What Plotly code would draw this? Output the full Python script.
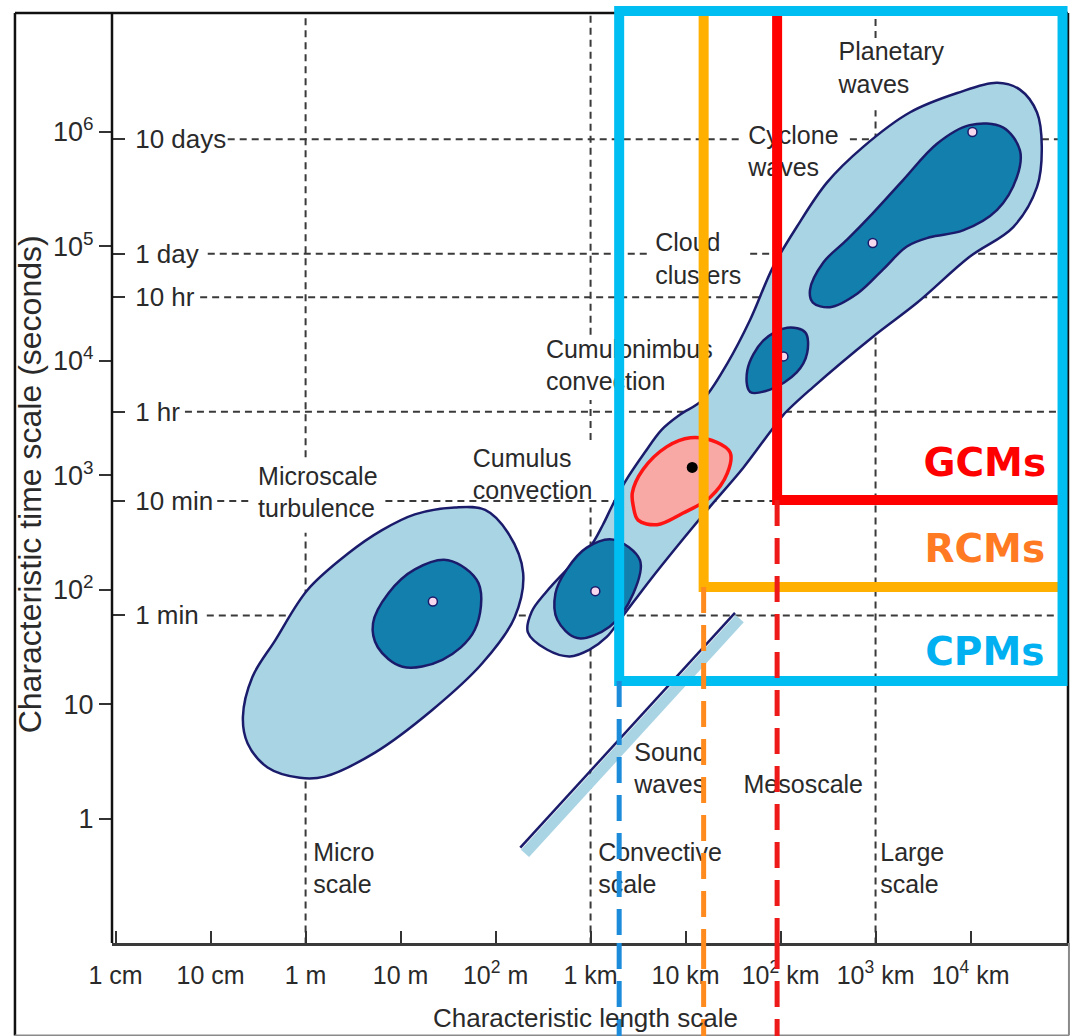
import math
import plotly.graph_objects as go

# ---------------- axes (log10 metres / log10 seconds) ----------------
X_RANGE = [-2.038, 8.026]
Y_RANGE = [-1.083, 7.109]

length_tick_vals = [0.01, 0.1, 1, 10, 100, 1e3, 1e4, 1e5, 1e6, 1e7]
length_tick_text = ["1 cm", "10 cm", "1 m", "10 m", "10<sup>2</sup> m", "1 km",
                    "10 km", "10<sup>2</sup> km", "10<sup>3</sup> km", "10<sup>4</sup> km"]
second_tick_vals = [1, 10, 100, 1e3, 1e4, 1e5, 1e6]
second_tick_text = ["1", "10", "10<sup>2</sup>", "10<sup>3</sup>", "10<sup>4</sup>",
                    "10<sup>5</sup>", "10<sup>6</sup>"]
named_time_vals = [864000, 86400, 36000, 3600, 600, 60]
named_time_text = ["10 days", "1 day", "10 hr", "1 hr", "10 min", "1 min"]

# dashed guides at named times: seconds -> spans in log10(metres)
time_guides = {
    864000: [(-0.82, 4.57), (5.73, 8.1)],
    86400: [(-1.03, 3.60), (4.68, 8.1)],
    36000: [(-1.11, 8.1)],
    3600: [(-1.27, 8.1)],
    600: [(-0.93, -0.59), (0.84, 8.1)],
    60: [(-1.04, 8.1)],
}
# dashed guides at regime boundaries: metres -> spans in log10(seconds)
length_guides = {
    1: [(3.16, 7.03), (-1.2, 2.50)],
    1e3: [(4.23, 7.03), (3.31, 3.66), (-1.2, 2.72)],
    1e6: [(6.82, 7.03), (-1.2, 6.19)],
}

# ---------------- phenomena outlines: (log10 m, log10 s) ----------------
micro_outer = [(1.57, 2.72), (1.89, 2.70), (2.13, 2.50), (2.29, 2.15), (2.20, 1.76),
               (1.86, 1.36), (1.33, 0.95), (0.73, 0.58), (0.20, 0.37), (-0.06, 0.36),
               (-0.40, 0.45), (-0.61, 0.66), (-0.66, 0.89), (-0.56, 1.24), (-0.32, 1.56),
               (0.02, 2.00), (0.45, 2.32), (0.80, 2.52), (1.15, 2.66)]
micro_inner = [(1.50, 2.26), (1.82, 2.06), (1.78, 1.65), (1.44, 1.39), (1.02, 1.33),
               (0.76, 1.50), (0.71, 1.71), (0.87, 1.97), (1.15, 2.18)]
meso_band = [(2.34, 1.63), (2.38, 1.81), (2.52, 1.97), (2.73, 2.16), (2.99, 2.37),
             (3.13, 2.57), (3.23, 2.74), (3.36, 2.94), (3.57, 3.20), (3.75, 3.40),
             (3.94, 3.53), (4.18, 3.66), (4.44, 3.98), (4.68, 4.36), (4.92, 4.82),
             (5.17, 5.17), (5.49, 5.56), (5.87, 5.87), (6.36, 6.17), (6.86, 6.34),
             (7.28, 6.43), (7.52, 6.37), (7.70, 6.17), (7.75, 5.87), (7.70, 5.52),
             (7.45, 5.17), (6.99, 4.91), (6.44, 4.51), (5.97, 4.21), (5.34, 3.77),
             (5.03, 3.53), (4.89, 3.38), (4.61, 3.07), (4.26, 2.73), (3.91, 2.38),
             (3.63, 2.09), (3.31, 1.74), (3.17, 1.59), (2.99, 1.48), (2.78, 1.42),
             (2.54, 1.48)]
cumulus_inner = [(3.24, 2.44), (3.52, 2.26), (3.45, 1.97), (3.20, 1.68), (2.86, 1.58),
                 (2.65, 1.74), (2.63, 1.97), (2.75, 2.18), (2.96, 2.37)]
cumulonimbus = [(3.45, 2.73), (3.44, 2.85), (3.55, 3.05), (3.80, 3.25), (4.05, 3.33),
                (4.33, 3.29), (4.47, 3.20), (4.44, 3.02), (4.26, 2.81), (3.97, 2.67),
                (3.70, 2.57), (3.50, 2.61)]
cloud_inner = [(4.65, 3.92), (4.82, 4.18), (5.07, 4.29), (5.26, 4.25), (5.28, 4.07),
               (5.17, 3.90), (4.89, 3.75), (4.68, 3.73)]
planetary_inner = [(5.31, 4.62), (5.45, 4.86), (5.70, 5.06), (5.97, 5.29), (6.29, 5.58),
                   (6.65, 5.90), (6.99, 6.06), (7.34, 6.04), (7.52, 5.84), (7.49, 5.61),
                   (7.28, 5.32), (6.92, 5.14), (6.57, 5.08), (6.33, 5.00), (6.08, 4.80),
                   (5.81, 4.59), (5.52, 4.47), (5.34, 4.51)]
sound_line = [(2.26, -0.25), (4.52, 1.80)]
sound_band = [(2.31, -0.30), (4.57, 1.75)]

# representative points of each phenomenon
centre_pts = [(1.34, 1.90), (3.05, 1.99), (5.03, 4.04), (5.97, 5.03), (7.02, 6.00)]
cumulonimbus_pt = (4.07, 3.07)

# text labels: (text, log10 m of left edge, log10 s of middle)
phenomena_labels = [
    ("Microscale<br>turbulence", -0.50, 2.83),
    ("Cumulus<br>convection", 1.76, 2.99),
    ("Cumulonimbus<br>convection", 2.53, 3.94),
    ("Cloud<br>clusters", 3.68, 4.87),
    ("Cyclone<br>waves", 4.66, 5.81),
    ("Planetary<br>waves", 5.61, 6.54),
    ("Sound<br>waves", 3.46, 0.42),
    ("Micro<br>scale", 0.08, -0.45),
    ("Convective<br>scale", 3.08, -0.45),
    ("Mesoscale", 4.61, 0.28),
    ("Large<br>scale", 6.05, -0.45),
]

# model classes: finest length (m) and shortest time (s) each resolves
model_names = ["GCMs", "RCMs", "CPMs"]
model_len = [9.2e4, 1.55e4, 2.0e3]
model_time = [611, 106, 16]
model_line_colors = ["#FF0000", "#FFB000", "#00BDF2"]
model_dash_colors = ["#EE1A1A", "#FF8A1E", "#1C8BD9"]
model_text_colors = ["#FF0000", "#FF7A22", "#00B0F0"]
model_label_pos = [(7.15, 3.08), (7.15, 2.33), (7.15, 1.43)]
BOX_TOP = 1.14e7    # s
BOX_RIGHT = 9.3e7   # m
AXIS_FLOOR = 0.05   # s, below the visible range

LIGHT = "#A9D4E4"
DARK = "#137FAD"
NAVY = "#1B1B6C"
GUIDE = "#3a3a3a"
TEXT = "#2a2a2a"


def closed(pairs):
    xs = [10 ** a for a, _ in pairs]
    ys = [10 ** b for _, b in pairs]
    return xs + [xs[0]], ys + [ys[0]]


fig = go.Figure()

# dashed guide lines
gx, gy = [], []
for t, spans in time_guides.items():
    for a, b in spans:
        gx += [10 ** a, 10 ** b, None]
        gy += [t, t, None]
for L, spans in length_guides.items():
    for a, b in spans:
        gx += [L, L, None]
        gy += [10 ** a, 10 ** b, None]
fig.add_trace(go.Scatter(x=gx, y=gy, mode="lines", hoverinfo="skip",
                         line=dict(color=GUIDE, width=2, dash="7px,5px")))


def blob(pairs, fill, edge, width=2.5):
    xs, ys = closed(pairs)
    fig.add_trace(go.Scatter(x=xs, y=ys, mode="lines", fill="toself", fillcolor=fill,
                             line=dict(color=edge, width=width, shape="spline", smoothing=1),
                             hoverinfo="skip"))


blob(micro_outer, LIGHT, NAVY)
blob(micro_inner, DARK, NAVY)
blob(meso_band, LIGHT, NAVY)
blob(cumulus_inner, DARK, NAVY)
blob(cloud_inner, DARK, NAVY)
blob(planetary_inner, DARK, NAVY)
blob(cumulonimbus, "#F8A9A5", "#FF1414", 3.5)

# sound waves
fig.add_trace(go.Scatter(x=[10 ** a for a, _ in sound_band], y=[10 ** b for _, b in sound_band],
                         mode="lines", line=dict(color=LIGHT, width=11), hoverinfo="skip"))
fig.add_trace(go.Scatter(x=[10 ** a for a, _ in sound_line], y=[10 ** b for _, b in sound_line],
                         mode="lines", line=dict(color=NAVY, width=2.5), hoverinfo="skip"))

# centre points
fig.add_trace(go.Scatter(x=[10 ** a for a, _ in centre_pts], y=[10 ** b for _, b in centre_pts],
                         mode="markers", hoverinfo="skip",
                         marker=dict(size=9, color="#F6D8EE", line=dict(color=NAVY, width=1.5))))
fig.add_trace(go.Scatter(x=[10 ** cumulonimbus_pt[0]], y=[10 ** cumulonimbus_pt[1]],
                         mode="markers", hoverinfo="skip",
                         marker=dict(size=11, color="black")))

# phenomena names
fig.add_trace(go.Scatter(x=[10 ** p[1] for p in phenomena_labels],
                         y=[10 ** p[2] for p in phenomena_labels],
                         text=[p[0] for p in phenomena_labels],
                         mode="text", textposition="middle right", hoverinfo="skip",
                         textfont=dict(family="Liberation Sans, Arial, sans-serif",
                                       size=25, color=TEXT)))

# model class names
fig.add_trace(go.Scatter(x=[10 ** p[0] for p in model_label_pos],
                         y=[10 ** p[1] for p in model_label_pos],
                         text=["<b>%s</b>" % n for n in model_names],
                         mode="text", textposition="middle center", hoverinfo="skip",
                         textfont=dict(family="DejaVu Sans, sans-serif", size=39,
                                       color=model_text_colors)))

# empty trace so the named-time axis is drawn
fig.add_trace(go.Scatter(x=[], y=[], yaxis="y2", hoverinfo="skip"))

shapes = []
# outer frame and plot borders (paper units)
Y13 = 930 / 938
shapes += [
    dict(type="line", xref="paper", yref="paper", x0=0, x1=0, y0=0, y1=Y13,
         line=dict(color="#111", width=2.5)),
    dict(type="line", xref="paper", yref="paper", x0=1, x1=1, y0=0, y1=Y13,
         line=dict(color="#111", width=2.5)),
    dict(type="line", xref="paper", yref="paper", x0=-0.1015, x1=1, y0=Y13, y1=Y13,
         line=dict(color="#111", width=2.5)),
    dict(type="line", xref="paper", yref="paper", x0=-0.1015, x1=-0.1015, y0=-0.0985, y1=Y13,
         line=dict(color="#111", width=2.5)),
    dict(type="line", xref="paper", yref="paper", x0=-0.1015, x1=1.001, y0=-0.0985, y1=-0.0985,
         line=dict(color="#8a8a8a", width=2)),
    dict(type="line", xref="paper", yref="paper", x0=1.001, x1=1.001, y0=-0.0985, y1=0,
         line=dict(color="#8a8a8a", width=2)),
]

# model boundaries: GCM, RCM as corner paths, CPM as a closed box
for i in range(2):
    L, T = model_len[i], model_time[i]
    shapes.append(dict(type="path", xref="x", yref="y", layer="above",
                       path="M %g,%g L %g,%g L %g,%g" % (L, BOX_TOP, L, T, BOX_RIGHT, T),
                       line=dict(color=model_line_colors[i], width=10)))
shapes.append(dict(type="rect", xref="x", yref="y", layer="above",
                   x0=model_len[2], x1=BOX_RIGHT, y0=model_time[2], y1=BOX_TOP,
                   line=dict(color=model_line_colors[2], width=10)))

# dashed extensions of each model's resolution down through the length axis
for i in range(3):
    L, T = model_len[i], model_time[i]
    shapes.append(dict(type="line", xref="x", yref="y", layer="above",
                       x0=L, x1=L, y0=T, y1=AXIS_FLOOR,
                       line=dict(color=model_dash_colors[i], width=5, dash="26px,12px")))
    shapes.append(dict(type="line", xref="x", yref="paper", layer="above",
                       x0=L, x1=L, y0=0, y1=-0.11,
                       line=dict(color=model_dash_colors[i], width=5, dash="26px,12px")))

fig.update_layout(
    width=1071, height=1036,
    margin=dict(l=112, r=3, t=5, b=93, pad=0),
    paper_bgcolor="white", plot_bgcolor="rgba(0,0,0,0)",
    showlegend=False,
    font=dict(family="Liberation Sans, Arial, sans-serif", color=TEXT),
    shapes=shapes,
    xaxis=dict(type="log", range=X_RANGE, tickmode="array", tickvals=length_tick_vals,
               ticktext=length_tick_text, ticks="inside", ticklen=12, tickwidth=2,
               tickcolor="#333", showline=True, linewidth=2.5, linecolor="#3a3a3a",
               showgrid=False, zeroline=False, ticklabelstandoff=8,
               tickfont=dict(size=25, color=TEXT)),
    yaxis=dict(type="log", range=Y_RANGE, tickmode="array", tickvals=second_tick_vals,
               ticktext=second_tick_text, ticks="outside", ticklen=12, tickwidth=2,
               tickcolor="#333", showline=False, showgrid=False, zeroline=False,
               tickfont=dict(size=27, color=TEXT)),
    yaxis2=dict(type="log", range=Y_RANGE, overlaying="y", side="right", anchor="free",
                position=0, tickmode="array", tickvals=named_time_vals,
                ticktext=named_time_text, ticks="outside", ticklen=12, tickwidth=2,
                tickcolor="#333", ticklabelstandoff=5, showline=False, showgrid=False,
                zeroline=False, tickfont=dict(size=26, color=TEXT)),
    annotations=[
        dict(text="Characteristic time scale (seconds)", xref="paper", yref="paper",
             x=-0.0858, y=0.489, textangle=-90, showarrow=False,
             xanchor="center", yanchor="middle", font=dict(size=32, color=TEXT)),
        dict(text="Characteristic length scale", xref="paper", yref="paper",
             x=0.4948, y=-0.08, showarrow=False, xanchor="center", yanchor="middle",
             font=dict(size=26, color=TEXT)),
    ],
)

fig.write_html("out.html")
